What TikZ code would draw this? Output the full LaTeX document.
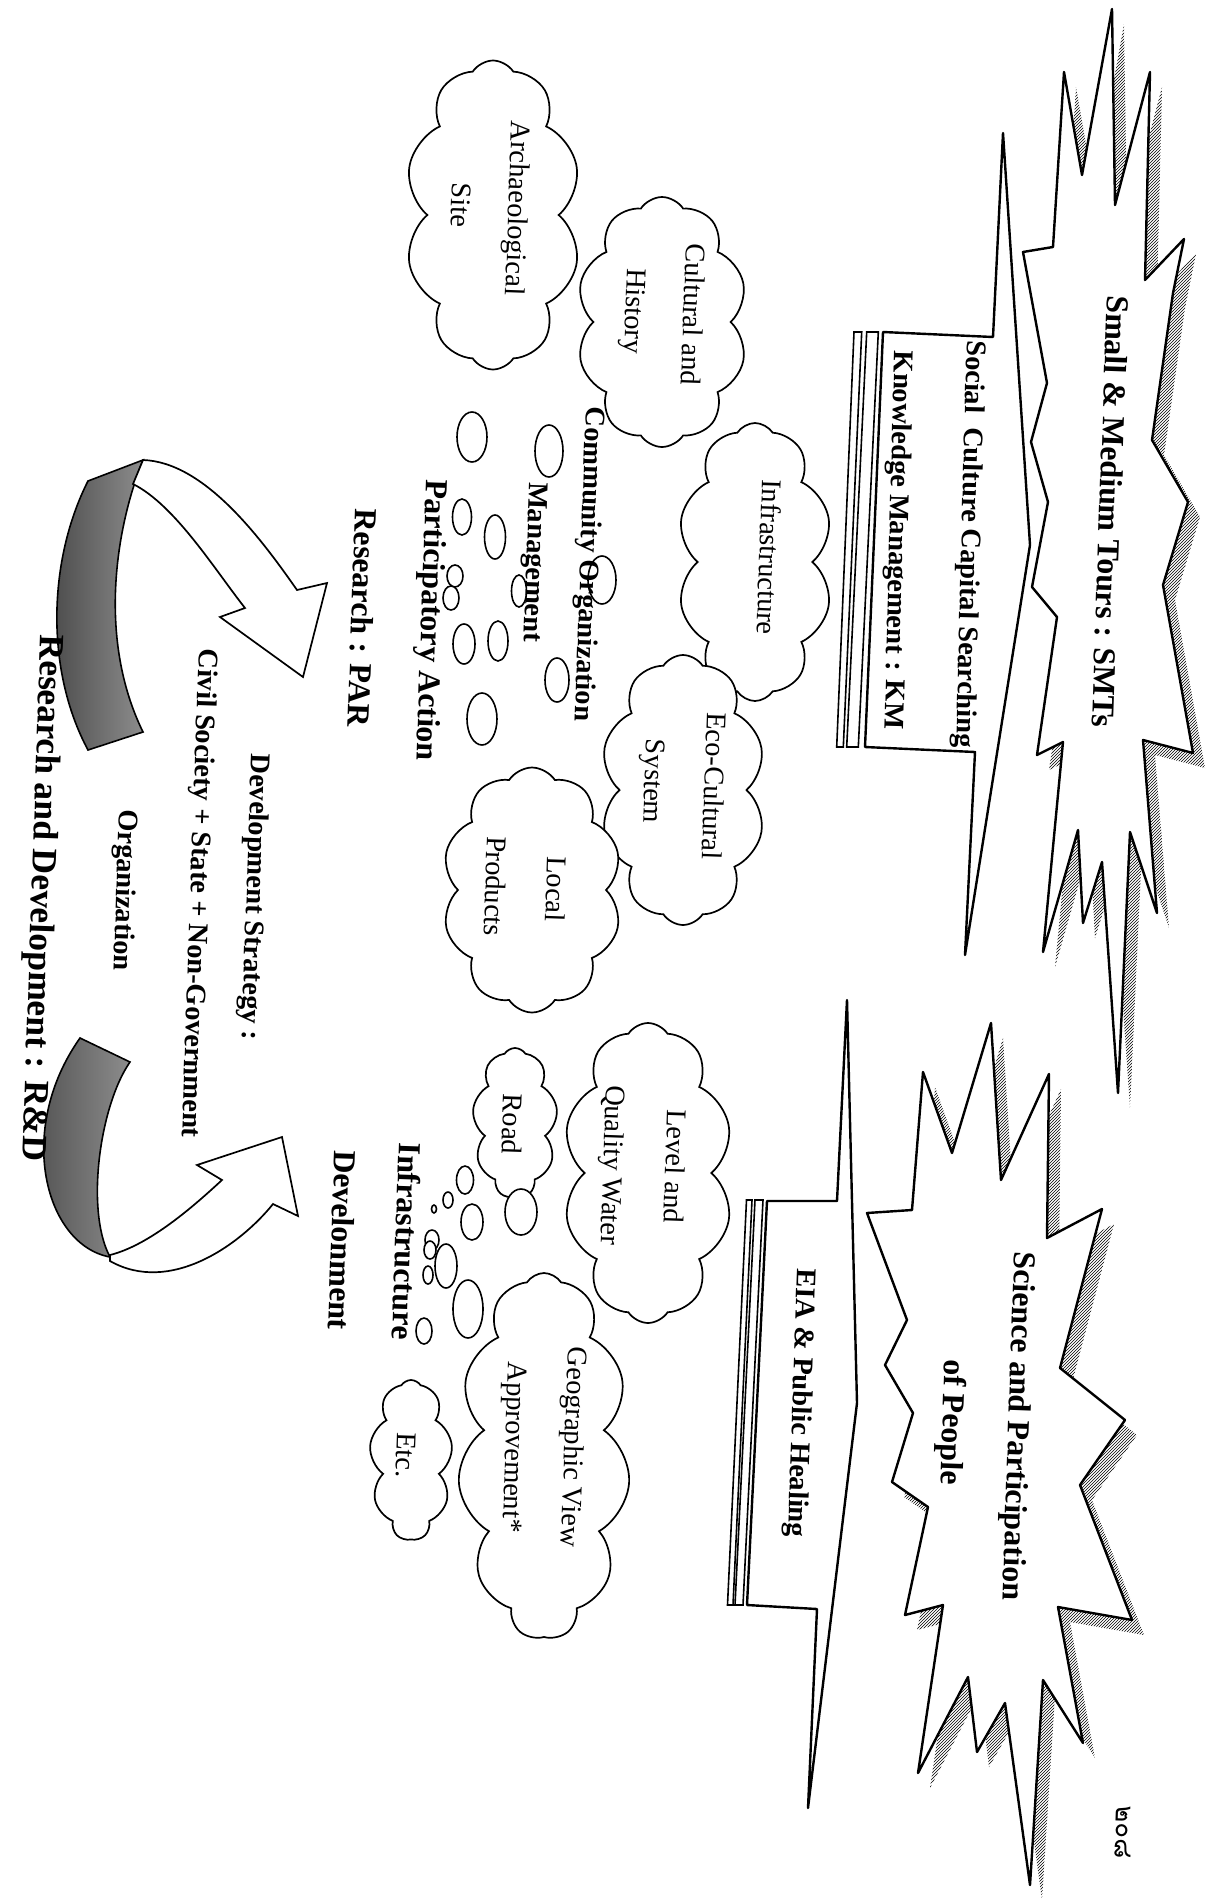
\documentclass[tikz,border=0pt]{standalone}
\usepackage{fontspec}
\setmainfont{Liberation Serif}
\newfontfamily\thaifont[Script=Thai]{Loma}
\usetikzlibrary{shapes.symbols,patterns}
\newcommand\myfs[1]{\fontsize{#1}{#1}\selectfont}
\begin{document}
\begin{tikzpicture}[x=1pt,y=-1pt,
  outl/.style={draw=black,line width=2.4pt,line join=round,fill=white},
  thinl/.style={draw=black,line width=1.6pt,fill=white},
  shadowfill/.style={pattern=north east lines,pattern color=black},
  cloudbox/.style={cloud,cloud puffs=10,cloud puff arc=115,cloud ignores aspect,draw=black,line width=1.7pt,fill=white,inner sep=0pt},
  bub/.style={draw=black,line width=1.6pt,fill=white},
  ribbon/.style={draw=black,line width=1.6pt,left color=black!72,right color=black!45},
  warrow/.style={draw=black,line width=1.7pt,fill=white,line join=miter},
  txt/.style={rotate=-92,inner sep=0pt,anchor=mid},
  rl/.style={txt,font=\myfs{28.5}},
  bl/.style={txt,font=\bfseries\myfs{28.5}},
  bL/.style={txt,font=\bfseries\myfs{32}},
  bX/.style={txt,font=\bfseries\myfs{35.5}}
]
\useasboundingbox (0,0) rectangle (1227,1898);
\fill[white] (0,0) rectangle (1227,1898);

\def\starA{(1023,252) -- (1053,247) -- (1064,72) -- (1082,175) -- (1112,9) -- (1115,205) -- (1150,72) -- (1145,280) -- (1184,239) -- (1173,293) -- (1152,440) -- (1188,502) -- (1163,585) -- (1193,753) -- (1143,740) -- (1157,913) -- (1130,832) -- (1118,1093) -- (1102,862) -- (1083,923) -- (1078,830) -- (1043,952) -- (1063,742) -- (1037,755) -- (1057,617) -- (1032,587) -- (1048,502) -- (1031,442) -- (1047,383) -- cycle}
\def\starB{(867,1213) -- (912,1210) -- (923,1072) -- (952,1153) -- (991,1023) -- (1001,1180) -- (1049,1074) -- (1047,1238) -- (1102,1209) -- (1060,1368) -- (1125,1420) -- (1080,1485) -- (1132,1620) -- (1058,1607) -- (1083,1743) -- (1043,1680) -- (1030,1885) -- (1005,1703) -- (977,1752) -- (968,1677) -- (918,1773) -- (943,1605) -- (905,1615) -- (928,1507) -- (892,1482) -- (913,1413) -- (885,1365) -- (907,1320) -- cycle}

% starbursts with hatched shadows
\fill[shadowfill,shift={(12,15)}] \starA;
\draw[outl] \starA;
\fill[shadowfill,shift={(12,15)}] \starB;
\draw[outl] \starB;

% banner 1
\draw[outl] (883,332) -- (993,337) -- (1003,133) -- (1030,545) -- (965,955) -- (975,752) -- (865,747) -- cycle;
\draw[thinl] (866.7,332) -- (878.3,332) -- (858.3,747) -- (846.7,747) -- cycle;
\draw[thinl] (854,332) -- (861.7,332) -- (843.3,747) -- (836.7,747) -- cycle;
% banner 2
\draw[outl] (767,1201) -- (837,1201) -- (847,1000) -- (857,1403) -- (808,1808) -- (817,1609) -- (747,1605) -- cycle;
\draw[thinl] (755,1200) -- (763,1200) -- (743,1605) -- (735,1605) -- cycle;
\draw[thinl] (746.5,1200) -- (752,1200) -- (733,1605) -- (727.5,1605) -- cycle;

% clouds
\node[cloudbox,minimum width=176pt,minimum height=309pt] (cArch) at (493,215) {};
\node[cloudbox,minimum width=171pt,minimum height=250pt] (cCult) at (662,322) {};
\node[cloudbox,minimum width=155pt,minimum height=278pt] (cInfra) at (755,562) {};
\node[cloudbox,minimum width=165pt,minimum height=270pt] (cEco) at (683,790) {};
\node[cloudbox,minimum width=180pt,minimum height=245pt] (cLocal) at (532,890) {};
\node[cloudbox,minimum width=170pt,minimum height=300pt] (cWater) at (648,1173) {};
\node[cloudbox,cloud puffs=9,minimum width=85pt,minimum height=150pt] (cRoad) at (515,1123) {};
\node[cloudbox,cloud puffs=11,minimum width=172pt,minimum height=366pt] (cGeo) at (544,1456) {};
\node[cloudbox,cloud puffs=9,minimum width=83pt,minimum height=160pt] (cEtc) at (411,1460) {};

% bubbles left group
\draw[bub] (472,437) ellipse [x radius=15,y radius=25];
\draw[bub] (549,451) ellipse [x radius=14,y radius=26];
\draw[bub] (462,517) ellipse [x radius=9.5,y radius=18];
\draw[bub] (495,537) ellipse [x radius=10.5,y radius=22];
\draw[bub] (602,580) ellipse [x radius=14,y radius=24];
\draw[bub] (455,576) ellipse [x radius=8,y radius=11];
\draw[bub] (451,598) ellipse [x radius=8,y radius=12];
\draw[bub] (519,591) ellipse [x radius=7.5,y radius=16];
\draw[bub] (498,641) ellipse [x radius=10,y radius=20];
\draw[bub] (464,644) ellipse [x radius=11,y radius=20];
\draw[bub] (557,680) ellipse [x radius=12,y radius=22];
\draw[bub] (482,719) ellipse [x radius=15,y radius=26];
% bubbles right group
\draw[bub] (465,1180) ellipse [x radius=8.5,y radius=14];
\draw[bub] (448,1200) ellipse [x radius=5,y radius=8];
\draw[bub] (434,1209) ellipse [x radius=2.5,y radius=4];
\draw[bub] (472,1222) ellipse [x radius=11,y radius=18];
\draw[bub] (521,1212) ellipse [x radius=16,y radius=23];
\draw[bub] (432,1240) ellipse [x radius=7,y radius=10];
\draw[bub] (430,1250) ellipse [x radius=6,y radius=9];
\draw[bub] (446,1266) ellipse [x radius=11,y radius=22];
\draw[bub] (428,1275) ellipse [x radius=5,y radius=9];
\draw[bub] (468,1309) ellipse [x radius=15,y radius=29];
\draw[bub] (424,1331) ellipse [x radius=8,y radius=13];

% curved arrow 1 (upper)
\draw[ribbon] (88,481) -- (143,460) .. controls (115,530) and (98,640) .. (143,732) -- (88,750) .. controls (45,670) and (48,560) .. (88,481) -- cycle;
\draw[warrow] (143,460) .. controls (205,462) and (262,540) .. (297,590) -- (327,583) -- (303,677) -- (220,617) -- (245,608) .. controls (215,570) and (175,505) .. (133,484) -- cycle;
% curved arrow 2 (lower)
\draw[ribbon] (80,1038) -- (130,1062) .. controls (100,1105) and (85,1210) .. (110,1257) .. controls (45,1245) and (15,1130) .. (80,1038) -- cycle;
\draw[warrow] (110,1255) .. controls (150,1245) and (195,1205) .. (222,1180) -- (197,1165) -- (282,1137) -- (298,1216) -- (273,1204) .. controls (240,1245) and (170,1295) .. (110,1261) -- cycle;

% texts
\node[bL] (tSMT) at (1102,511) {Small \& Medium Tours : SMTs};
\node[bl,rotate=0.5] (tSoc) at (964,544) {Social\ \ Culture Capital Searching};
\node[bl,rotate=0.5] (tKM) at (892,540) {Knowledge Management : KM};
\node[bL] (tSci) at (1011,1426) {Science and Participation};
\node[bL] (tPeo) at (945,1422) {of People};
\node[bl] (tEIA) at (795,1403) {EIA \& Public Healing};

\node[rl] (tArch) at (511,208) {Archaeological};
\node[rl] (tSite) at (454,205) {Site};
\node[rl] (tCult) at (686,314) {Cultural and};
\node[rl] (tHist) at (628,311) {History};
\node[rl] (tInfra) at (762,557) {Infrastructure};
\node[rl] (tEco) at (707,786) {Eco-Cultural};
\node[rl] (tSys) at (647,781) {System};
\node[rl] (tLoc) at (549,889) {Local};
\node[rl] (tProd) at (488,886) {Products};
\node[rl] (tLev) at (668,1166) {Level and};
\node[rl] (tQW) at (606,1165) {Quality Water};
\node[rl] (tRoad) at (505,1124) {Road};
\node[rl] (tGeo) at (567,1447) {Geographic View};
\node[rl] (tApp) at (508,1447) {Approvement*};
\node[rl] (tEtc) at (399,1455) {Etc.};

\node[bl] (tCO) at (583,564) {Community Organization};
\node[bl] (tMan) at (529,562) {Management};
\node[bL] (tPA) at (424,620) {Participatory Action};
\node[bL] (tPAR) at (354,618) {Research : PAR};
\node[bl] (tDS) at (249,897) {Development Strategy :};
\node[bl] (tCS) at (193,893) {Civil Society + State + Non-Government};
\node[bl] (tOrg) at (119,890) {Organization};
\node[bX] (tRD) at (34,898) {Research and Development : R\&D};
\node[bL] (tInfD) at (398,1241) {Infrastructure};
\node[bL] (tDev) at (334,1240) {Develonment};
\node[txt,font=\thaifont\myfs{26}] (tPage) at (1118,1832) {๒๐๘};
\end{tikzpicture}
\end{document}
